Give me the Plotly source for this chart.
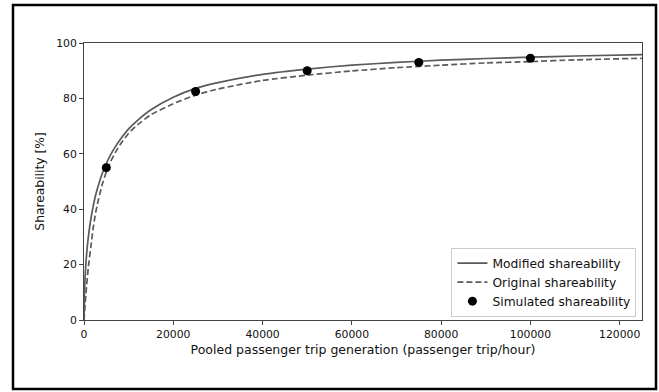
import plotly.graph_objects as go

# Data
x_modified = [0, 100, 250, 500, 750, 1000, 1500, 2000, 2500, 3000, 4000, 5000, 6000, 7000,
              8000, 10000, 12000, 15000, 20000, 25000, 30000, 40000, 50000, 60000,
              70000, 80000, 90000, 100000, 110000, 125000]
y_modified = [0, 9.2, 15.6, 22.1, 26.7, 30.3, 36.1, 40.6, 44.4, 47.4, 52.5, 56.5, 59.8, 62.5,
              64.9, 69.0, 72.1, 75.9, 80.4, 83.6, 85.7, 88.7, 90.6, 92.0,
              93.0, 93.8, 94.4, 94.9, 95.3, 95.8]

x_original = [0, 100, 250, 500, 750, 1000, 1500, 2000, 2500, 3000, 4000, 5000, 6000, 7000,
              8000, 10000, 12000, 15000, 20000, 25000, 30000, 40000, 50000, 60000,
              70000, 80000, 90000, 100000, 110000, 125000]
y_original = [0, 2.4, 5.7, 10.8, 15.3, 19.4, 26.0, 32.5, 37.8, 41.8, 48.5, 53.5, 57.3, 60.4,
              63.1, 67.4, 70.5, 74.1, 78.1, 81.2, 83.4, 86.5, 88.4, 89.9,
              91.1, 92.0, 92.8, 93.3, 93.9, 94.5]

x_sim = [5000, 25000, 50000, 75000, 100000]
y_sim = [55, 82.5, 90, 93, 94.5]

x_ticks = [0, 20000, 40000, 60000, 80000, 100000, 120000]
y_ticks = [0, 20, 40, 60, 80, 100]

FONT = "DejaVu Sans"

fig = go.Figure()
fig.add_trace(go.Scatter(x=x_modified, y=y_modified, mode="lines", name="Modified shareability",
                         line=dict(color="#5a5a5a", width=1.7, shape="spline", smoothing=0.5)))
fig.add_trace(go.Scatter(x=x_original, y=y_original, mode="lines", name="Original shareability",
                         line=dict(color="#5a5a5a", width=1.7, dash="6px,3px", shape="spline", smoothing=0.5)))
fig.add_trace(go.Scatter(x=x_sim, y=y_sim, mode="markers", name="Simulated shareability",
                         marker=dict(color="black", size=9)))

L, R, T, B = 84, 17, 43, 72
W, H = 659, 392
pw, ph = W - L - R, H - T - B

def px_to_paper_x(px):
    return (px - L) / pw

def px_to_paper_y(py):
    return (H - B - py) / ph

fig.add_shape(type="rect", xref="paper", yref="paper",
              x0=px_to_paper_x(13), x1=px_to_paper_x(656),
              y0=px_to_paper_y(389), y1=px_to_paper_y(5),
              line=dict(color="black", width=2.5), fillcolor="rgba(0,0,0,0)")

fig.update_layout(
    width=W, height=H,
    margin=dict(l=L, r=R, t=T, b=B),
    paper_bgcolor="white", plot_bgcolor="white",
    font=dict(family=FONT, size=11, color="#111"),
    showlegend=True,
    legend=dict(x=0.99, y=0.012, xanchor="right", yanchor="bottom",
                bgcolor="white", bordercolor="#cccccc", borderwidth=1,
                font=dict(family=FONT, size=12.3, color="#111"),
                tracegroupgap=0, itemwidth=30),
    xaxis=dict(range=[0, 125000], tickvals=x_ticks, tickformat="d",
               showgrid=False, zeroline=False, showline=True, mirror=True,
               linecolor="#444", linewidth=1, ticks="outside", ticklen=4,
               tickcolor="#444", tickfont=dict(size=10.8),
               title=dict(text="Pooled passenger trip generation (passenger trip/hour)",
                          font=dict(size=12.5), standoff=5)),
    yaxis=dict(range=[0, 100], tickvals=y_ticks,
               showgrid=False, zeroline=False, showline=True, mirror=True,
               linecolor="#444", linewidth=1, ticks="outside", ticklen=4,
               tickcolor="#444", tickfont=dict(size=10.8),
               title=dict(text="Shareability [%]", font=dict(size=12.3), standoff=8)),
)

fig.write_html("out.html")
